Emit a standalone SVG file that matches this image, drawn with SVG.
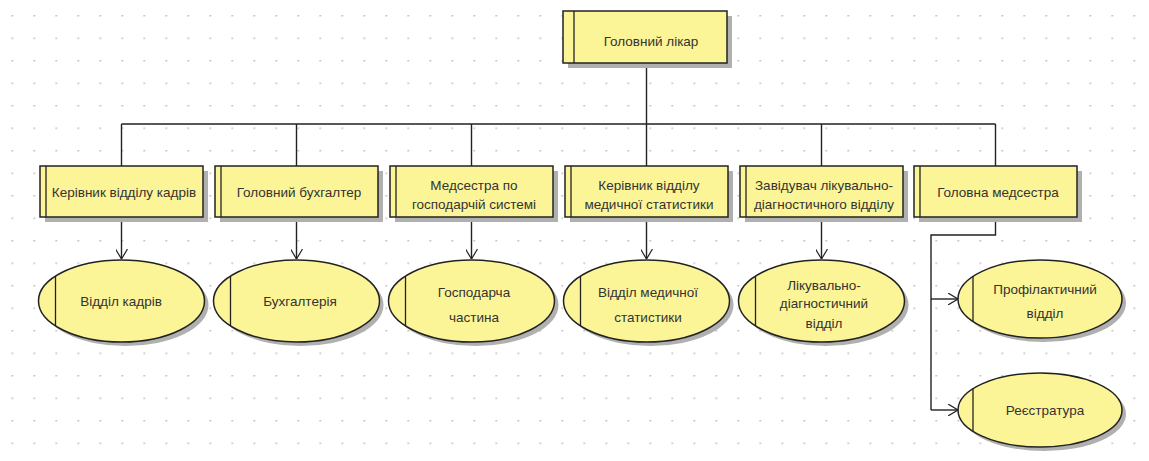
<svg xmlns="http://www.w3.org/2000/svg" width="1149" height="461" viewBox="0 0 1149 461">
<defs>
<pattern id="grid" x="11.5" y="15" width="22" height="22.5" patternUnits="userSpaceOnUse">
<circle cx="0.8" cy="0.8" r="0.8" fill="#a0a0a0"/>
</pattern>
<marker id="arr" viewBox="0 0 10 12" refX="10" refY="6" markerWidth="10" markerHeight="12" markerUnits="userSpaceOnUse" orient="auto">
<path d="M0,0 L10,6 L0,12" fill="none" stroke="#222" stroke-width="1.2"/>
</marker>
<style>
.box{fill:#fcf597;stroke:#222;stroke-width:1.5}
.sh{fill:#b0b0b0}
.in{stroke:#222;stroke-width:1.3}
.t{font-family:"Liberation Sans",Arial,sans-serif;font-size:13.5px;fill:#333;text-anchor:middle}
.c{fill:none;stroke:#222;stroke-width:1.4}
</style>
</defs>
<rect width="1149" height="461" fill="#fff"/>
<rect width="1149" height="461" fill="url(#grid)"/>

<g id="connectors">
<path class="c" d="M646.5,63 V124 M121.5,124 H995.5 M121.5,124 V166 M296.5,124 V166 M471.5,124 V166 M646.5,124 V166 M821.5,124 V166 M995.5,124 V166"/>
<path class="c" d="M121.5,217 V259" marker-end="url(#arr)"/>
<path class="c" d="M296.5,217 V259" marker-end="url(#arr)"/>
<path class="c" d="M471.5,217 V259" marker-end="url(#arr)"/>
<path class="c" d="M646.5,217 V259" marker-end="url(#arr)"/>
<path class="c" d="M821.5,217 V259" marker-end="url(#arr)"/>
<path class="c" d="M995.5,217 V235 H931 V410"/>
<path class="c" d="M931,299 H958" marker-end="url(#arr)"/>
<path class="c" d="M931,410 H958" marker-end="url(#arr)"/>
</g>

<g id="n-golovnyi-likar">
<rect class="sh" x="568" y="16" width="164" height="52"/>
<rect class="box" x="563" y="11" width="164" height="52"/>
<line class="in" x1="574" y1="11" x2="574" y2="63"/>
<text class="t" x="651" y="46">Головний лікар</text>
</g>

<g id="n-kerivnyk-kadriv">
<rect class="sh" x="45" y="171" width="163" height="51"/>
<rect class="box" x="40" y="166" width="163" height="51"/>
<line class="in" x1="46" y1="166" x2="46" y2="217"/>
<text class="t" x="124" y="197">Керівник відділу  кадрів</text>
</g>

<g id="n-holovnyi-bukhhalter">
<rect class="sh" x="220" y="171" width="163" height="51"/>
<rect class="box" x="215" y="166" width="163" height="51"/>
<line class="in" x1="221" y1="166" x2="221" y2="217"/>
<text class="t" x="299" y="197">Головний бухгалтер</text>
</g>

<g id="n-medsestra-hosp">
<rect class="sh" x="395" y="171" width="163" height="51"/>
<rect class="box" x="390" y="166" width="163" height="51"/>
<line class="in" x1="396" y1="166" x2="396" y2="217"/>
<text class="t" x="474" y="190">Медсестра по</text>
<text class="t" x="474" y="209">господарчій системі</text>
</g>

<g id="n-kerivnyk-stat">
<rect class="sh" x="570" y="171" width="163" height="51"/>
<rect class="box" x="565" y="166" width="163" height="51"/>
<line class="in" x1="571" y1="166" x2="571" y2="217"/>
<text class="t" x="649" y="190">Керівник відділу</text>
<text class="t" x="649" y="209">медичної статистики</text>
</g>

<g id="n-zaviduvach">
<rect class="sh" x="745" y="171" width="163" height="51"/>
<rect class="box" x="740" y="166" width="163" height="51"/>
<line class="in" x1="746" y1="166" x2="746" y2="217"/>
<text class="t" x="824" y="190">Завідувач лікувально-</text>
<text class="t" x="824" y="209">діагностичного  відділу</text>
</g>

<g id="n-holovna-medsestra">
<rect class="sh" x="919" y="171" width="163" height="51"/>
<rect class="box" x="914" y="166" width="163" height="51"/>
<line class="in" x1="920" y1="166" x2="920" y2="217"/>
<text class="t" x="998" y="197">Головна медсестра</text>
</g>

<g id="e-viddil-kadriv">
<ellipse class="sh" cx="125.5" cy="305" rx="83" ry="41"/>
<ellipse class="box" cx="121.5" cy="301" rx="83" ry="41"/>
<line class="in" x1="55.5" y1="276" x2="55.5" y2="326"/>
<text class="t" x="121" y="306">Відділ кадрів</text>
</g>

<g id="e-bukhhalteriia">
<ellipse class="sh" cx="300.5" cy="305" rx="83" ry="41"/>
<ellipse class="box" cx="296.5" cy="301" rx="83" ry="41"/>
<line class="in" x1="230.5" y1="276" x2="230.5" y2="326"/>
<text class="t" x="300" y="306">Бухгалтерія</text>
</g>

<g id="e-hospodarcha">
<ellipse class="sh" cx="475.5" cy="305" rx="83" ry="41"/>
<ellipse class="box" cx="471.5" cy="301" rx="83" ry="41"/>
<line class="in" x1="405.5" y1="276" x2="405.5" y2="326"/>
<text class="t" x="474" y="297">Господарча</text>
<text class="t" x="474" y="322">частина</text>
</g>

<g id="e-viddil-stat">
<ellipse class="sh" cx="650.5" cy="305" rx="83" ry="41"/>
<ellipse class="box" cx="646.5" cy="301" rx="83" ry="41"/>
<line class="in" x1="580.5" y1="276" x2="580.5" y2="326"/>
<text class="t" x="648" y="297">Відділ медичної</text>
<text class="t" x="648" y="322">статистики</text>
</g>

<g id="e-likuvalno">
<ellipse class="sh" cx="825.5" cy="305" rx="83" ry="41"/>
<ellipse class="box" cx="821.5" cy="301" rx="83" ry="41"/>
<line class="in" x1="755.5" y1="276" x2="755.5" y2="326"/>
<text class="t" x="824" y="290">Лікувально-</text>
<text class="t" x="824" y="308">діагностичний</text>
<text class="t" x="824" y="328">відділ</text>
</g>

<g id="e-profilaktychnyi">
<ellipse class="sh" cx="1044" cy="303" rx="82" ry="39"/>
<ellipse class="box" cx="1040" cy="299" rx="82" ry="39"/>
<line class="in" x1="973" y1="276" x2="973" y2="322"/>
<text class="t" x="1045" y="294">Профілактичний</text>
<text class="t" x="1045" y="318">відділ</text>
</g>

<g id="e-reiestratura">
<ellipse class="sh" cx="1044" cy="414" rx="82" ry="37"/>
<ellipse class="box" cx="1040" cy="410" rx="82" ry="37"/>
<line class="in" x1="973" y1="388" x2="973" y2="432"/>
<text class="t" x="1045" y="415">Реєстратура</text>
</g>
</svg>
